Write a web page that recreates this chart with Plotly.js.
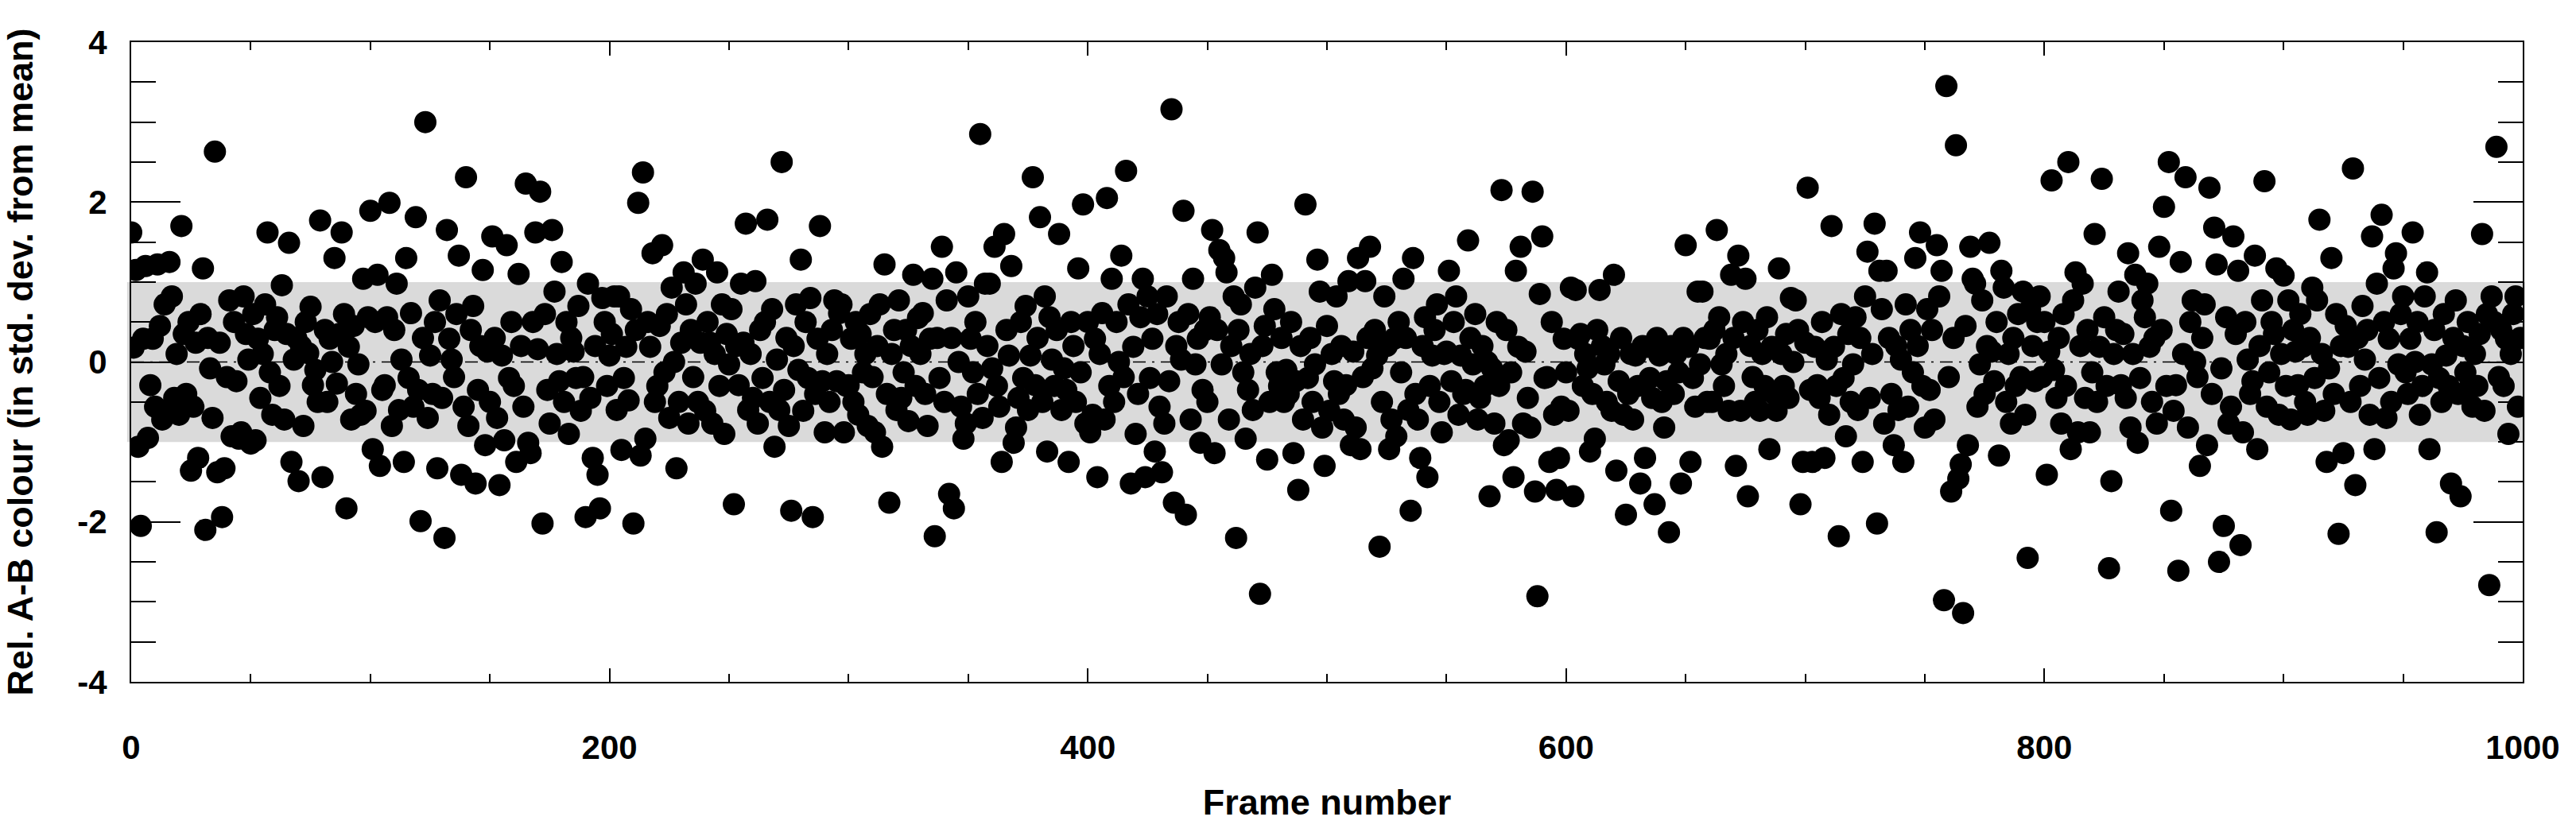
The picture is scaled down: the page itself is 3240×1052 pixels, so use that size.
<!DOCTYPE html>
<html>
<head>
<meta charset="utf-8">
<script src="https://cdn.plot.ly/plotly-3.0.1.min.js"></script>
<style>
  body { margin: 0; padding: 0; background: #ffffff; }
  #chart { width: 3240px; height: 1052px; }
</style>
</head>
<body>
<div id="chart"></div>
<script>
////////// relative A-B colour per frame (frames 0-249)
var colourA = [
  1.62, 0.18, 1.15, -1.06, -2.05, 0.29, 1.2, -0.95, -0.29, 0.29,
  -0.56, 1.22, 0.45, -0.72, 0.72, -0.6, 1.25, 0.82, -0.45, 0.1,
  -0.66, 1.7, 0.35, -0.4, 0.5, -1.36, -0.56, 0.24, -1.2, 0.6,
  1.17, -2.1, 0.3, -0.08, -0.7, 2.63, -1.38, 0.24, -1.94, -1.33,
  -0.19, 0.77, -0.93, 0.5, -0.24, -0.96, -0.88, 0.82, 0.35, 0.03,
  -1.02, 0.6, -0.98, 0.29, -0.45, 0.1, 0.72, 1.62, -0.13, -0.66,
  0.4, 0.56, -0.3, 0.96, -0.72, 0.35, 1.49, -1.25, 0.03, 0.3,
  -1.49, 0.2, -0.8, 0.5, 0.11, 0.69, -0.29, -0.1, -0.5, 1.77,
  -1.44, 0.4, -0.5, 0.29, 0.0, 1.3, -0.27, 0.35, 1.62, 0.6,
  -1.83, 0.19, -0.72, 0.45, -0.4, -0.03, -0.66, 1.04, -0.61, 0.56,
  1.89, -1.09, 0.5, 1.09, -1.3, -0.35, -0.29, 0.56, 1.99, -0.8,
  0.4, 0.98, -0.6, 0.03, -1.25, 1.3, -0.2, 0.61, -0.56, 1.81,
  -0.35, -1.99, 0.3, 3.0, -0.7, 0.08, -0.4, 0.5, -1.33, 0.77,
  -0.45, -2.2, 1.65, 0.29, 0.03, -0.19, 0.6, 1.33, -1.41, -0.56,
  2.31, -0.8, 0.4, 0.7, -1.52, -0.35, 0.2, 1.15, -1.04, 0.13,
  -0.5, 1.57, 0.3, -0.7, -1.54, 0.08, -0.98, 1.46, -0.2, 0.5,
  -0.3, -1.25, 1.1, 0.2, -0.56, 2.23, -1.01, -1.14, 0.5, 1.62,
  0.16, 2.13, -2.02, 0.6, -0.35, -0.77, 1.65, 0.88, 0.1, -0.24,
  1.25, -0.5, 0.5, -0.9, 0.3, 0.13, -0.2, 0.7, -0.61, -0.19,
  -1.94, 0.98, -0.45, -1.2, 0.2, -1.41, -1.83, 0.8, 0.5, -0.3,
  0.08, 0.35, 0.82, -0.6, 0.82, -1.1, -0.2, 0.19, -0.48, 0.66,
  -2.02, 0.4, 1.99, -1.17, 2.37, -0.96, 0.5, 0.19, 1.36, -0.5,
  -0.3, 0.45, 1.46, -0.13, 0.6, -0.7, 0.93, 0.0, -1.33, -0.5,
  0.24, 1.12, 0.72, -0.77, 0.4, -0.19, 0.98, -0.5, 0.24, 1.28,
  -0.61, 0.5, 0.24, -0.77, 0.1, 1.12, -0.3, 0.72, -0.9, 0.35
];
////////// frames 250-499
var colourB = [
  -0.03, 0.66, -1.78, 0.2, -0.29, 0.98, 0.24, 1.73, -0.6, 0.1,
  -0.45, 1.01, -0.77, 0.4, -0.2, 0.5, 1.78, -0.5, 0.66, -1.06,
  0.03, -0.6, 2.5, -0.35, 0.3, -0.8, -1.86, 0.2, 0.72, -0.1,
  1.28, -0.61, 0.5, -0.2, 0.8, -1.94, -0.4, 0.29, 1.7, -0.24,
  -0.88, 0.1, -0.5, 0.4, 0.77, -0.24, 0.61, 0.72, -0.88, -0.3,
  -0.29, 0.29, -0.5, 0.5, -0.66, 0.35, -0.13, 0.1, -0.8, 0.6,
  -0.19, -0.88, 0.2, 0.72, -1.06, 1.22, -0.4, -1.76, 0.1, 0.4,
  -0.6, 0.77, -0.45, -0.13, 0.4, -0.74, 0.2, 1.09, -0.3, 0.55,
  0.1, 0.61, -0.4, -0.8, 0.29, 1.04, -2.18, 0.3, -0.2, 1.44,
  -0.5, 0.77, -1.65, 0.3, -1.83, 1.12, 0.0, -0.56, -0.96, -0.77,
  0.82, 0.29, -0.13, 0.5, -0.4, 2.85, -0.7, 0.98, 0.2, 0.98,
  -0.08, 1.44, -0.3, -0.56, -1.25, 1.6, 0.4, 0.08, 1.2, -1.01,
  -0.82, -0.45, 0.5, -0.2, 0.7, -0.6, 0.08, 2.31, -0.29, 0.3,
  1.81, -0.5, 0.82, -1.12, 0.56, 0.03, -0.3, 0.4, 1.6, -0.6,
  -0.08, -0.35, -1.25, 0.5, 0.2, -0.5, 1.17, -0.13, 1.97, -0.77,
  0.5, -0.88, -0.66, 0.29, -1.44, 0.1, 0.61, -0.72, 2.05, -0.3,
  1.04, -0.5, 0.5, 0.0, 1.33, -0.19, 2.39, 0.72, -1.52, 0.19,
  -0.9, -0.4, 0.56, 1.04, -1.44, 0.82, -0.2, 0.29, -1.12, 0.6,
  -0.56, -1.38, -0.77, 0.82, -0.24, 3.16, -1.76, 0.2, 0.5, 0.03,
  1.89, -1.91, 0.6, -0.72, 1.04, -0.03, 0.29, -1.01, -0.35, 0.4,
  -0.5, 0.56, 1.65, -1.14, 0.4, 1.4, -0.03, 1.3, 1.12, -0.72,
  0.2, 0.82, -2.2, 0.4, 0.72, -0.13, -0.96, -0.35, 0.1, -0.6,
  0.93, 1.62, -2.9, 0.2, 0.45, -1.22, -0.5, 1.09, 0.66, -0.13,
  -0.3, 0.3, -0.5, -0.1, -0.4, 0.5, -1.14, -0.24, -1.6, 0.2,
  -0.72, 1.97, -0.2, 0.3, -0.5, -0.03, 1.28, 0.88, -0.82, -1.3
];
////////// frames 500-749
var colourC = [
  0.45, -0.61, 0.1, -0.24, 0.82, -0.4, 0.2, -0.72, -0.29, 1.01,
  -1.04, 0.13, -0.82, 1.3, -1.09, -0.19, 1.01, 0.3, 1.44, -0.08,
  0.4, 0.08, -2.31, -0.5, 0.82, 0.2, -1.09, -0.72, 0.29, -0.93,
  0.5, -0.13, 1.04, 0.3, -0.6, -1.86, 1.3, -0.4, -0.72, -1.2,
  0.2, 0.56, -1.44, -0.3, 0.08, 0.4, 0.72, -0.5, -0.88, 0.1,
  0.13, 1.14, -0.24, 0.5, 0.82, -0.66, 0.08, -0.4, -0.35, 1.52,
  0.3, -0.03, 0.6, -0.72, -0.45, 0.2, -0.3, 0.0, -1.68, -0.08,
  -0.77, 0.5, -0.3, 2.15, -1.04, 0.4, -0.98, -0.13, -1.44, 1.14,
  0.19, 1.44, -0.77, 0.13, -0.45, -0.82, 2.13, -1.62, -2.93, 0.85,
  1.57, -0.2, -0.19, -1.25, 0.5, -0.66, -1.6, -1.2, -0.56, 0.29,
  -0.13, -0.61, 0.93, -1.68, 0.9, 0.29, 0.35, -0.3, 0.1, -0.08,
  -1.12, -0.4, -0.96, 0.4, 0.9, 0.2, -0.03, -0.5, 0.1, -0.61,
  1.09, -1.36, -0.24, 0.3, -0.66, -1.91, -0.4, 0.1, -0.72, 0.08,
  -0.3, -1.52, 0.2, -1.2, 0.19, -0.2, -0.45, -1.78, 0.3, 0.08,
  -0.5, -0.82, -0.24, -2.13, 0.2, -0.4, 0.1, -0.13, -1.52, 0.3,
  1.46, 0.19, -1.25, -0.2, -0.56, 0.88, -0.03, 0.88, 0.3, -0.5,
  0.29, -0.5, 0.4, 1.65, 0.56, -0.03, -0.3, 0.1, -0.61, 1.09,
  0.3, -1.3, 1.33, -0.61, 0.5, 1.04, -1.68, 0.2, -0.19, -0.5,
  0.4, -0.61, 0.1, -0.3, 0.56, -1.09, 0.19, -0.4, -0.61, 1.17,
  0.1, -0.3, 0.35, -0.45, 0.8, 0.0, 0.77, 0.4, -1.78, -1.25,
  0.24, 2.18, -0.35, -1.25, 0.19, -0.29, -0.45, 0.5, -1.2, 0.03,
  -0.66, 1.7, 0.19, -0.3, -2.18, 0.6, -0.2, -0.93, 0.35, -0.5,
  -0.03, 0.56, -0.6, 0.3, -1.25, 0.82, 1.38, -0.45, 0.1, 1.73,
  -2.02, 1.14, 0.66, -0.77, 1.14, 0.3, -0.4, -1.04, 0.2, -0.6,
  0.03, -1.25, 0.72, -0.56, 0.4, -0.13, 1.3, 0.2, 1.62, -0.3
];
////////// frames 750-999
var colourD = [
  -0.82, 0.66, -0.35, 0.4, -0.72, 1.46, 0.82, 1.14, -2.98, 3.45,
  -0.19, -1.62, 0.3, 2.71, -1.46, -1.28, -3.14, 0.45, -1.04, 1.44,
  1.04, 0.98, -0.56, -0.03, 0.77, -0.4, 0.2, 1.49, 0.13, -0.24,
  0.5, -1.17, 1.14, 0.93, -0.5, 0.1, -0.77, 0.3, -0.3, 0.6,
  -0.19, 0.88, -0.66, -2.45, 0.66, 0.2, -0.24, 0.5, 0.82, -0.19,
  0.5, -1.41, 0.13, 2.27, -0.1, -0.45, 0.3, -0.77, 0.6, -0.3,
  2.5, -1.09, 0.77, 1.12, -0.88, 0.2, 0.98, -0.45, 0.4, -0.88,
  -0.13, 1.6, -0.5, 0.19, 2.29, 0.56, -0.3, -2.58, -1.49, 0.1,
  0.4, 0.88, -0.29, 0.35, -0.45, 1.36, -0.82, 0.1, 1.09, -1.01,
  -0.2, 0.77, 0.56, 0.98, 0.19, -0.5, 0.3, -0.77, 1.44, 0.4,
  1.94, -0.3, 2.5, -1.86, -0.61, -0.29, -2.61, 1.25, 0.1, 2.31,
  -0.82, 0.5, 0.77, 0.0, -0.19, -1.3, 0.3, 0.72, -1.04, 2.18,
  -0.4, 1.68, 1.22, -2.5, -0.08, -2.05, 0.56, -0.77, -0.56, 1.57,
  0.35, 1.14, -2.29, -0.88, 0.5, 0.03, -0.4, -0.24, 1.33, -1.09,
  0.2, 0.77, 2.26, -0.56, -0.13, 0.5, 0.35, 1.17, -0.66, 0.1,
  1.08, -0.3, 0.77, -0.72, 0.4, 0.13, -0.29, 0.6, 0.19, -0.5,
  -0.66, 0.3, 0.93, -0.2, 0.77, 1.78, 0.1, -0.61, -1.25, -0.08,
  1.3, -0.4, 0.6, -2.15, 0.2, -1.14, 0.45, 0.19, -0.5, 2.42,
  -1.54, 0.3, -0.3, 0.7, 0.03, 0.4, -0.66, 1.57, -1.09, 0.98,
  -0.2, 1.84, 0.5, -0.7, 0.29, -0.5, 1.17, 1.36, -0.03, 0.6,
  0.82, -0.13, -0.4, 0.29, 1.62, 0.0, 0.5, -0.66, -0.3, 0.82,
  1.12, -1.09, -0.03, 0.4, -2.13, -0.2, -0.5, 0.6, 0.08, -0.3,
  -1.52, 0.3, 0.77, -0.4, -1.68, 0.2, -0.13, 0.5, -0.3, -0.56,
  0.1, -0.3, 0.35, 1.6, -0.61, 0.6, -2.79, 0.82, 0.5, 2.69,
  -0.19, 0.4, -0.3, 0.29, -0.9, 0.1, 0.6, 0.82, -0.56, 0.3
];

////////// axis ticks
var xTicks = [0, 200, 400, 600, 800, 1000];
var yTicks = [-4, -2, 0, 2, 4];
var yTickText = ['-4', '-2', '0', '2', '4'];
var bandLow = -1, bandHigh = 1;

var relColour = colourA.concat(colourB, colourC, colourD);
var frameNo = [];
for (var i = 0; i < relColour.length; i++) { frameNo.push(i); }

var fontFam = '"Liberation Sans", Arial, Helvetica, sans-serif';

////////// the dots
var data = [{
  x: frameNo,
  y: relColour,
  type: 'scatter',
  mode: 'markers',
  marker: { color: '#000000', size: 28, line: { width: 0 } },
  cliponaxis: true,
  hoverinfo: 'skip',
  showlegend: false
}];

////////// layout
var layout = {
  width: 3240,
  height: 1052,
  margin: { l: 165, r: 67, t: 53, b: 194 },
  paper_bgcolor: '#ffffff',
  plot_bgcolor: '#ffffff',
  font: { family: fontFam, size: 42, color: '#000000', weight: 700 },
  showlegend: false,
  xaxis: {
    range: [0, 1000],
    tickmode: 'array',
    tickvals: xTicks,
    ticks: 'inside',
    ticklen: 17,
    tickwidth: 2,
    tickcolor: '#000000',
    minor: { tick0: 0, dtick: 50, ticks: 'inside', ticklen: 10, tickwidth: 2, tickcolor: '#000000' },
    showline: true,
    linewidth: 2,
    linecolor: '#000000',
    mirror: 'allticks',
    showgrid: false,
    zeroline: false,
    tickfont: { family: fontFam, size: 42, weight: 700 },
    ticklabelstandoff: 45,
    title: { text: 'Frame number', font: { family: fontFam, size: 45, weight: 700 }, standoff: 30 }
  },
  yaxis: {
    range: [-4, 4],
    tickmode: 'array',
    tickvals: yTicks,
    ticktext: yTickText,
    ticks: 'inside',
    ticklen: 62,
    tickwidth: 2,
    tickcolor: '#000000',
    minor: { tick0: 0, dtick: 0.5, ticks: 'inside', ticklen: 31, tickwidth: 2, tickcolor: '#000000' },
    showline: true,
    linewidth: 2,
    linecolor: '#000000',
    mirror: 'allticks',
    showgrid: false,
    zeroline: false,
    tickfont: { family: fontFam, size: 42, weight: 700 },
    ticklabelstandoff: 20,
    title: { text: 'Rel. A-B colour (in std. dev. from mean)', font: { family: fontFam, size: 45, weight: 700 }, standoff: 45 }
  },
  shapes: [
    { type: 'rect', xref: 'paper', yref: 'y', x0: -0.0017, x1: 1.001, y0: bandLow, y1: bandHigh,
      fillcolor: '#dadada', line: { width: 0 }, layer: 'below' },
    { type: 'line', xref: 'paper', yref: 'y', x0: 0, x1: 1, y0: 0, y1: 0,
      line: { color: '#000000', width: 1.5, dash: '16px,8px,3px,8px' }, layer: 'below' }
  ]
};

Plotly.newPlot('chart', data, layout, { staticPlot: true, displayModeBar: false });
</script>
</body>
</html>
